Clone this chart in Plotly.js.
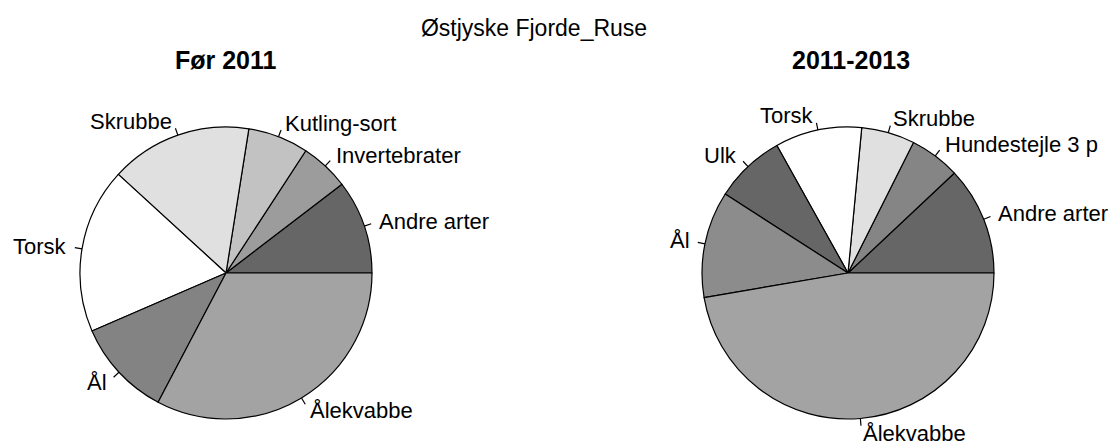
<!DOCTYPE html>
<html>
<head>
<meta charset="utf-8">
<script src="https://cdn.plot.ly/plotly-3.0.1.min.js"></script>
<style>html,body{margin:0;padding:0;background:#fff;}#chart{width:1110px;height:448px;}</style>
</head>
<body>
<div id="chart"></div>
<script>
// ---- data (percent share of catch) ----
const mainTitle = "Østjyske Fjorde_Ruse";
const titleLeft = "Før 2011";
const titleRight = "2011-2013";

const speciesLeft = ["Andre arter", "Invertebrater", "Kutling-sort", "Skrubbe", "Torsk", "Ål", "Ålekvabbe"];
const valuesLeft  = [10.4, 5.4, 6.7, 15.7, 18.3, 10.8, 32.7];

const speciesRight = ["Andre arter", "Hundestejle 3 p", "Skrubbe", "Torsk", "Ulk", "Ål", "Ålekvabbe"];
const valuesRight  = [12.0, 5.6, 5.9, 9.6, 7.8, 11.8, 47.3];

// ---- styles ----
const colorsLeft  = ["#666666", "#9c9c9c", "#c2c2c2", "#e0e0e0", "#ffffff", "#838383", "#a3a3a3"];
const colorsRight = ["#666666", "#858585", "#e0e0e0", "#ffffff", "#666666", "#8c8c8c", "#a3a3a3"];

const W = 1110, H = 448;
const FONT = "Liberation Sans, Arial, sans-serif";
const LABEL_SIZE = 22;

// pie placement in pixels
const R = 146, CY = 273;
const CX_L = 226, CX_R = 848;

function domainFor(cx) {
  return {
    x: [(cx - R) / W, (cx + R) / W],
    y: [1 - (CY + R) / H, 1 - (CY - R) / H]
  };
}

function pieTrace(labels, values, colors, cx) {
  const total = values.reduce((a, b) => a + b, 0);
  // first slice must start at 3 o'clock and run counterclockwise (R pie default)
  const rot = 90 - 360 * values[0] / total;
  return {
    type: "pie",
    labels: labels,
    values: values,
    sort: false,
    direction: "counterclockwise",
    rotation: rot,
    textinfo: "none",
    hoverinfo: "label+percent",
    marker: { colors: colors, line: { color: "#000000", width: 1.2 } },
    domain: domainFor(cx),
    showlegend: false
  };
}

// R-style outside labels with short tick marks, placed from slice mid angles
function labelsFor(labels, values, cx) {
  const total = values.reduce((a, b) => a + b, 0);
  let cum = 0;
  const anns = [], shapes = [];
  labels.forEach((lab, i) => {
    const mid = 2 * Math.PI * (cum + values[i] / 2) / total;
    cum += values[i];
    const c = Math.cos(mid), s = Math.sin(mid);
    const px = (rr) => cx + rr * R * c;
    const py = (rr) => CY - rr * R * s;
    shapes.push({
      type: "line", xref: "paper", yref: "paper",
      x0: px(1.0) / W, y0: 1 - py(1.0) / H,
      x1: px(1.05) / W, y1: 1 - py(1.05) / H,
      line: { color: "#000000", width: 1.2 }
    });
    anns.push({
      xref: "paper", yref: "paper",
      x: px(1.1) / W, y: 1 - py(1.1) / H,
      xanchor: c >= 0 ? "left" : "right", yanchor: "middle",
      text: lab, showarrow: false, borderpad: 0,
      font: { family: FONT, size: LABEL_SIZE, color: "#000000" }
    });
  });
  return { anns, shapes };
}

const lblL = labelsFor(speciesLeft, valuesLeft, CX_L);
const lblR = labelsFor(speciesRight, valuesRight, CX_R);

const subTitles = [
  { text: titleLeft, x: CX_L },
  { text: titleRight, x: CX_R + 3 }
].map(t => ({
  xref: "paper", yref: "paper", x: t.x / W, y: 1 - 60 / H,
  xanchor: "center", yanchor: "middle", showarrow: false,
  text: "<b>" + t.text + "</b>",
  font: { family: FONT, size: 25, color: "#000000" }
}));

const layout = {
  width: W, height: H,
  margin: { l: 0, r: 0, t: 0, b: 0 },
  paper_bgcolor: "#ffffff",
  plot_bgcolor: "#ffffff",
  title: {
    text: mainTitle,
    x: 534 / W, xanchor: "center",
    y: 1 - 28 / H, yanchor: "middle", yref: "container",
    font: { family: FONT, size: 23, color: "#000000" }
  },
  annotations: subTitles.concat(lblL.anns, lblR.anns),
  shapes: lblL.shapes.concat(lblR.shapes),
  showlegend: false
};

Plotly.newPlot("chart", [
  pieTrace(speciesLeft, valuesLeft, colorsLeft, CX_L),
  pieTrace(speciesRight, valuesRight, colorsRight, CX_R)
], layout, { displayModeBar: false, staticPlot: true });
</script>
</body>
</html>
